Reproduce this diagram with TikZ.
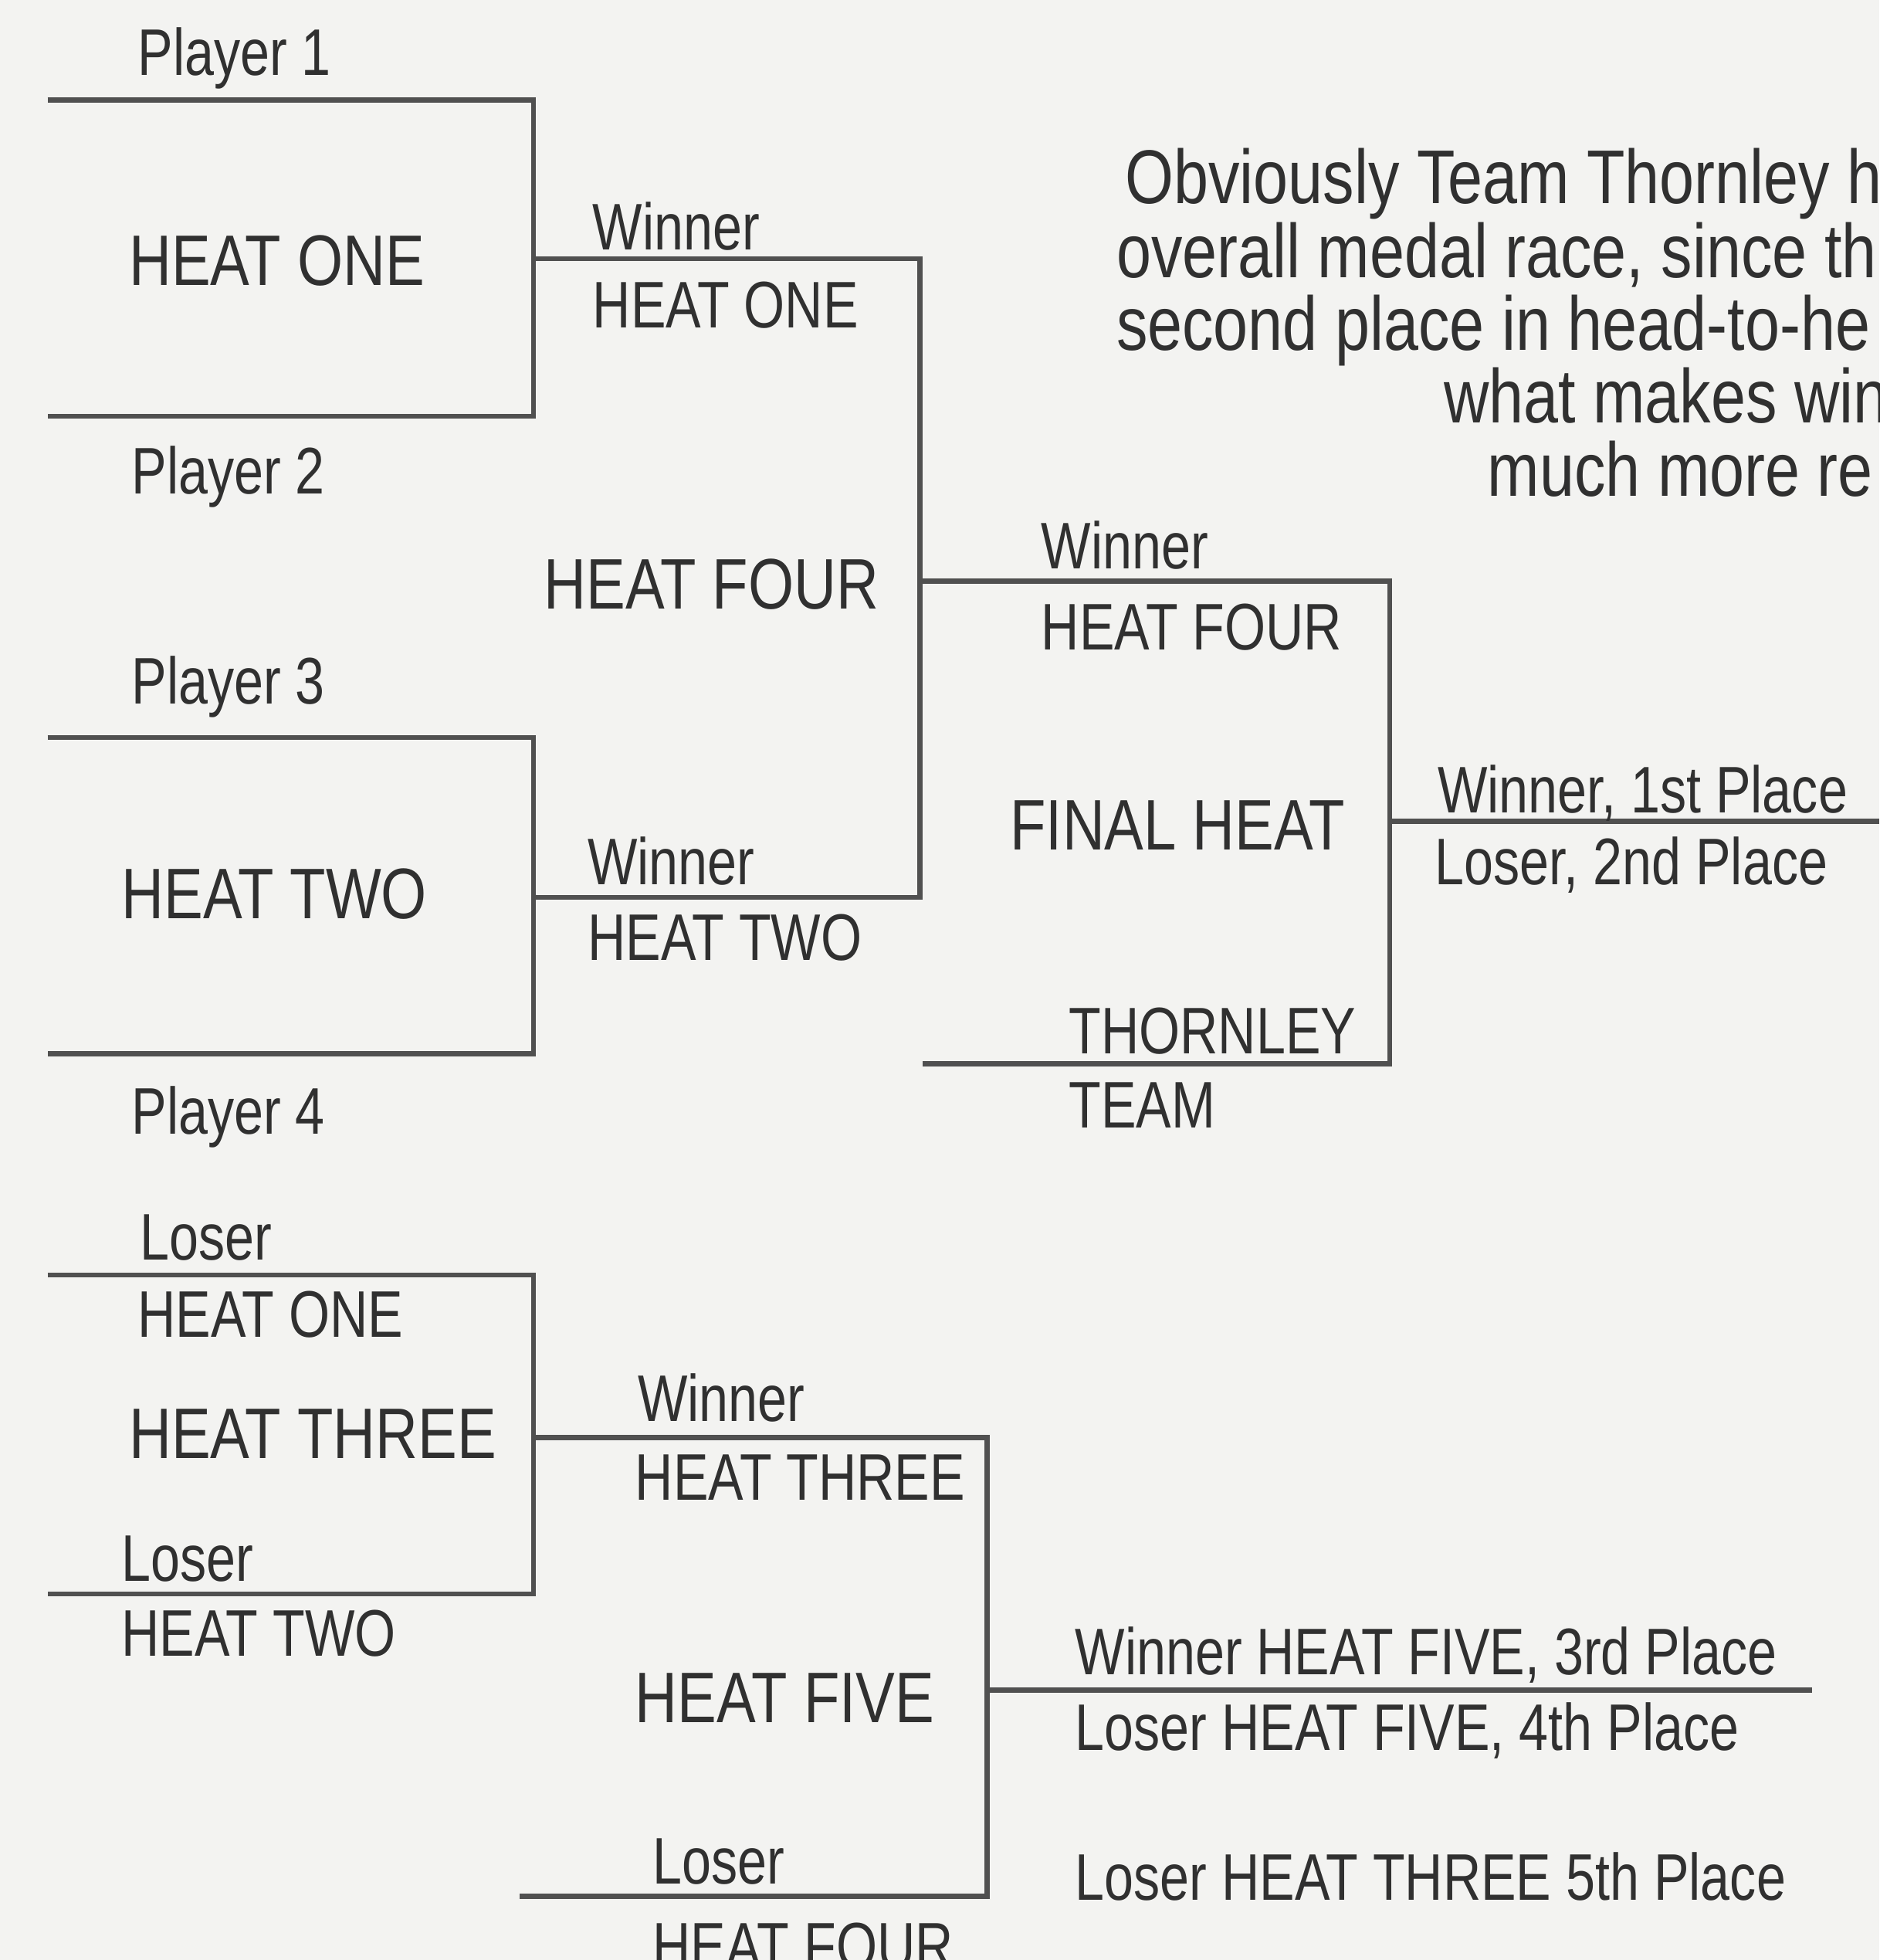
\documentclass[tikz,border=0pt]{standalone}
\usepackage{fontspec}
\setmainfont[FakeStretch=0.82]{Liberation Sans}
\newfontfamily\smallfam[FakeStretch=0.80]{Liberation Sans}
\definecolor{bg}{HTML}{F3F3F1}
\definecolor{ink}{HTML}{303030}
\definecolor{rule}{HTML}{505050}
\begin{document}
\begin{tikzpicture}[x=0.02cm,y=-0.02cm,
  bracket/.style={draw=rule,line width=2.3pt,line cap=butt,line join=miter},
  big/.style={text=ink,inner sep=0pt,anchor=base west,font=\fontsize{32.6}{34}\selectfont},
  small/.style={text=ink,inner sep=0pt,anchor=base west,font=\smallfam\fontsize{30}{32}\selectfont},
  para/.style={text=ink,inner sep=0pt,anchor=base west,font=\fontsize{34.7}{36}\selectfont}]
\useasboundingbox (0,0) rectangle (1504,1568);
\fill[bg] (0,0) rectangle (1504,1568);
\begin{scope}
\clip (0,0) rectangle (1504,1568);
% corner coordinates
\coordinate (a1) at (38,80);   \coordinate (a2) at (427,80);
\coordinate (a3) at (427,333); \coordinate (a4) at (38,333);
\coordinate (b1) at (38,590);  \coordinate (b2) at (427,590);
\coordinate (b3) at (427,843); \coordinate (b4) at (38,843);
\coordinate (c1) at (38,1020); \coordinate (c2) at (427,1020);
\coordinate (c3) at (427,1275);\coordinate (c4) at (38,1275);
\coordinate (w1) at (427,207); \coordinate (w2) at (736,207);
\coordinate (w3) at (736,718); \coordinate (w4) at (427,718);
\coordinate (f1) at (736,465); \coordinate (f2) at (1112,465);
\coordinate (f3) at (1112,851);\coordinate (f4) at (738,851);
\coordinate (g1) at (1112,657);\coordinate (g2) at (1504,657);
\coordinate (h1) at (427,1150);\coordinate (h2) at (790,1150);
\coordinate (h3) at (790,1517);\coordinate (h4) at (416,1517);
\coordinate (k1) at (790,1352);\coordinate (k2) at (1450,1352);
% brackets
\draw[bracket] (a1) -- (a2) -- (a3) -- (a4);
\draw[bracket] (b1) -- (b2) -- (b3) -- (b4);
\draw[bracket] (c1) -- (c2) -- (c3) -- (c4);
\draw[bracket] (w1) -- (w2) -- (w3) -- (w4);
\draw[bracket] (f1) -- (f2) -- (f3) -- (f4);
\draw[bracket] (g1) -- (g2);
\draw[bracket] (h1) -- (h2) -- (h3) -- (h4);
\draw[bracket] (k1) -- (k2);
% labels top bracket
\node[small] (p1) at (110,60) {Player 1};
\node[big] (h1t) at (103,228) {HEAT ONE};
\node[small] (p2) at (105,395) {Player 2};
\node[small] (wa) at (474,200) {Winner};
\node[small] (wb) at (474,262) {HEAT ONE};
\node[big] (h4t) at (435,487) {HEAT FOUR};
\node[small] (p3) at (105,563) {Player 3};
\node[big] (h2t) at (97,735) {HEAT TWO};
\node[small] (wc) at (470,708) {Winner};
\node[small] (wd) at (470,768) {HEAT TWO};
\node[small] (p4) at (105,907) {Player 4};
\node[small] (we) at (833,455) {Winner};
\node[small] (wf) at (833,520) {HEAT FOUR};
\node[big] (fht) at (808,680) {FINAL HEAT};
\node[small] (tt1) at (855,843) {THORNLEY};
\node[small] (tt2) at (855,902) {TEAM};
\node[small] (r1) at (1150,650) {Winner, 1st Place};
\node[small] (r2) at (1148,708) {Loser, 2nd Place};
% bottom bracket
\node[small] (l1) at (112,1008) {Loser};
\node[small] (l2) at (110,1070) {HEAT ONE};
\node[big] (h3t) at (103,1167) {HEAT THREE};
\node[small] (l3) at (97,1265) {Loser};
\node[small] (l4) at (97,1325) {HEAT TWO};
\node[small] (wg) at (510,1137) {Winner};
\node[small] (wh) at (508,1200) {HEAT THREE};
\node[big] (h5t) at (508,1378) {HEAT FIVE};
\node[small] (l5) at (522,1507) {Loser};
\node[small] (l6) at (522,1575) {HEAT FOUR};
\node[small] (r3) at (860,1340) {Winner HEAT FIVE, 3rd Place};
\node[small] (r4) at (860,1400) {Loser HEAT FIVE, 4th Place};
\node[small] (r5) at (860,1520) {Loser HEAT THREE 5th Place};
% paragraph
\node[para] (t1) at (900,163) {Obviously Team Thornley h};
\node[para] (t2) at (893,222) {overall medal race, since th};
\node[para] (t3) at (893,280) {second place in head-to-he};
\node[para] (t4) at (1155,338) {what makes win};
\node[para] (t5) at (1190,397) {much more re};
\end{scope}
\end{tikzpicture}
\end{document}
